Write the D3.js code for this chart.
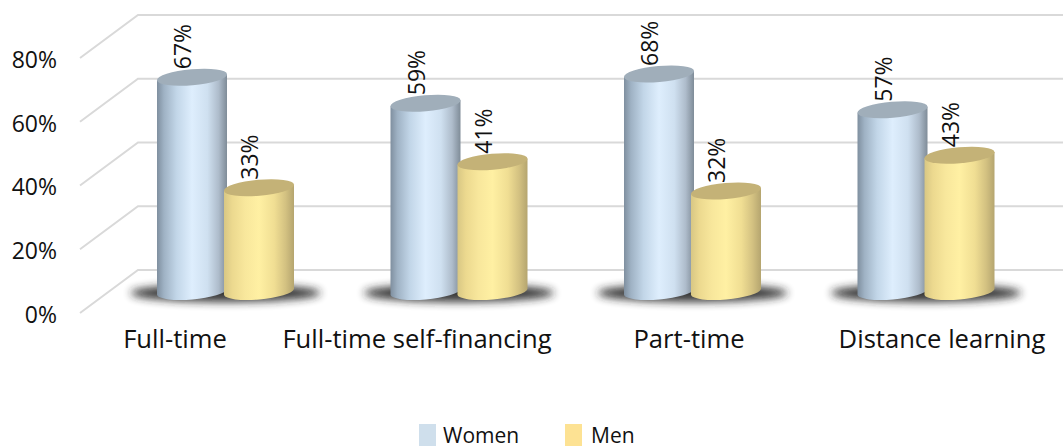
<!DOCTYPE html>
<html><head><meta charset="utf-8">
<script src="https://cdn.jsdelivr.net/npm/d3@7"></script>
<style>html,body{margin:0;padding:0;background:#fff;overflow:hidden}svg{display:block}text{font-family:"Open Sans",sans-serif;fill:#111}</style>
</head><body><svg id="c" width="1063" height="446"></svg>
<script>
const categories = ["Full-time","Full-time self-financing","Part-time","Distance learning"];
const seriesNames = ["Women","Men"];
const women = [67,59,68,57];
const men = [33,41,32,43];
const yTicks = [0,20,40,60,80];

const svg = d3.select("#c");
const defs = svg.append("defs");
const grad = (id,stops)=>{const g=defs.append("linearGradient").attr("id",id);
  stops.forEach(([o,c])=>g.append("stop").attr("offset",o).attr("stop-color",c));};
grad("gWomen",[[0,"#7f8f9f"],[.1,"#9fb2c4"],[.28,"#c2d6e8"],[.5,"#deeefd"],[.72,"#cfe0f0"],[.88,"#aebccb"],[1,"#7f8c98"]]);
grad("gMen",[[0,"#d8c784"],[.12,"#ecd98f"],[.3,"#f8e79c"],[.5,"#fff0a3"],[.72,"#f0de93"],[.88,"#d3c181"],[1,"#b5a56f"]]);
defs.append("filter").attr("id","blur").attr("x","-30%").attr("y","-100%").attr("width","160%").attr("height","300%")
  .append("feGaussianBlur").attr("stdDeviation",4);

const yFront = d3.scaleLinear().domain([0,80]).range([315,60]);
const yBack = d3.scaleLinear().domain([0,80]).range([270,15]);
const yBar = d3.scaleLinear().domain([0,100]).range([295,-30]);
const xGroup = d3.scalePoint().domain(categories).range([225.5,926]);
const xInner = d3.scalePoint().domain(seriesNames).range([-33.5,33.5]);
const fills = {Women:"url(#gWomen)",Men:"url(#gMen)"};
const tops = {Women:"#a0aeba",Men:"#c4b277"};
const swatch = {Women:"#cfdfec",Men:"#fde293"};
const labelCx = [175,417,689,942];
const rx = 35, ry = 8, tilt = 3, baseLift = 3;

// gridlines: back wall and side wall
const grid = svg.append("g").attr("stroke","#d9d9d9").attr("stroke-width",2).attr("fill","none");
yTicks.forEach(t=>{
  const front = yFront(t)-2;
  grid.append("path").attr("d",`M80,${front}L138,${yBack(t)}H1063`);
});

// y axis labels
const axis = svg.append("g").attr("transform","translate(57,0)").call(d3.axisLeft(yFront).tickValues(yTicks).tickSize(0).tickPadding(0).tickFormat(d=>d+"%"));
axis.select(".domain").remove();
axis.selectAll("text").attr("font-size",23).attr("font-family",'"Open Sans",sans-serif').attr("fill","#111");

// shadows
svg.append("g").selectAll("ellipse").data(categories).join("ellipse")
  .attr("cx",d=>xGroup(d)).attr("cy",293).attr("rx",95).attr("ry",9)
  .attr("fill","#222").attr("opacity",.9).attr("filter","url(#blur)");

// cylinders
const rows = categories.flatMap((c,i)=>[
  {c,s:"Women",v:women[i]},{c,s:"Men",v:men[i]}
]);
const bars = svg.append("g").selectAll("g").data(rows).join("g")
  .attr("transform",d=>`translate(${xGroup(d.c)+xInner(d.s)},0)`);
bars.append("path").attr("fill",d=>fills[d.s]).attr("d",d=>{
  const t=yBar(d.v), b=yBar(0)-baseLift;
  return `M${-rx},${t+tilt}L${-rx},${b+tilt}A${rx+.2},${ry} -5 0 0 ${rx},${b-tilt}L${rx},${t-tilt}Z`;
});
bars.append("ellipse").attr("rx",rx+.2).attr("ry",ry).attr("cy",d=>yBar(d.v))
  .attr("transform",d=>`rotate(-5 0 ${yBar(d.v)})`).attr("fill",d=>tops[d.s]);

// value labels
bars.append("text").text(d=>d.v+"%").attr("font-size",23)
  .attr("transform",d=>`translate(-1,${yBar(d.v)-8}) rotate(-90)`);

// category labels
svg.append("g").selectAll("text").data(categories).join("text")
  .attr("x",(d,i)=>labelCx[i]).attr("y",348).attr("text-anchor","middle").attr("font-size",25.6).text(d=>d);

// legend
const legendX = d3.scaleOrdinal().domain(seriesNames).range([419,565]);
const leg = svg.append("g").selectAll("g").data(seriesNames).join("g")
  .attr("transform",d=>`translate(${legendX(d)},0)`);
leg.append("rect").attr("y",424).attr("width",17).attr("height",22).attr("fill",d=>swatch[d]);
leg.append("text").attr("x",(d,i)=>i?26:24).attr("y",443).attr("font-size",21).text(d=>d);
</script></body></html>
